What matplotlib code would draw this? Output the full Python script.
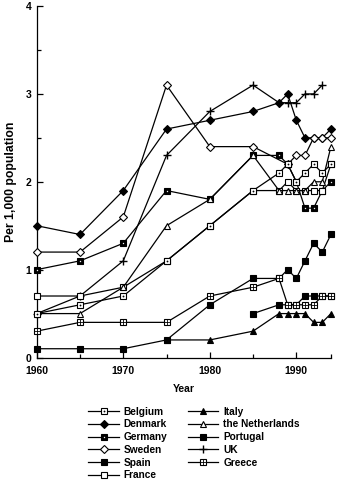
import matplotlib
matplotlib.use("Agg")
import matplotlib.pyplot as plt
from matplotlib.legend_handler import HandlerTuple
from matplotlib.ticker import MultipleLocator, FixedLocator

plt.rcParams["font.family"] = ["Liberation Sans", "DejaVu Sans"]

# Survey years shared by all countries (None = no figure for that year)
YEARS = [1960, 1965, 1970, 1975, 1980, 1985, 1988, 1989, 1990, 1991, 1992, 1993, 1994]

belgium     = [0.5, 0.6, 0.7, 1.1, 1.5, 1.9, 2.1, 2.2, 2.0, 2.1, 2.2, 2.1, 2.2]
denmark     = [1.5, 1.4, 1.9, 2.6, 2.7, 2.8, 2.9, 3.0, 2.7, 2.5, 2.5, 2.5, 2.6]
germany     = [1.0, 1.1, 1.3, 1.9, 1.8, 2.3, 2.3, 2.2, 2.0, 1.7, 1.7, 1.9, 2.0]
sweden      = [1.2, 1.2, 1.6, 3.1, 2.4, 2.4, None, 2.2, 2.3, 2.3, 2.5, 2.5, 2.5]
spain       = [0.1, 0.1, 0.1, 0.2, 0.6, 0.9, 0.9, 1.0, 0.9, 1.1, 1.3, 1.2, 1.4]
france      = [0.7, 0.7, 0.8, 1.1, 1.5, 1.9, 1.9, 2.0, 1.9, 1.9, 1.9, 1.9, 2.2]
italy       = [None, None, None, 0.2, 0.2, 0.3, 0.5, 0.5, 0.5, 0.5, 0.4, 0.4, 0.5]
netherlands = [0.5, 0.5, 0.8, 1.5, 1.8, 2.3, 1.9, 1.9, 1.9, 1.9, 2.0, 2.0, 2.4]
portugal    = [None, None, None, None, None, 0.5, 0.6, 0.6, 0.6, 0.7, 0.7, 0.7, 0.7]
uk          = [0.5, 0.7, 1.1, 2.3, 2.8, 3.1, 2.9, 2.9, 2.9, 3.0, 3.0, 3.1, None]
greece      = [0.3, 0.4, 0.4, 0.4, 0.7, 0.8, 0.9, 0.6, 0.6, 0.6, 0.6, 0.7, 0.7]

LABELS = ["Belgium", "Denmark", "Germany", "Sweden", "Spain", "France",
          "Italy", "the Netherlands", "Portugal", "UK", "Greece"]
SERIES = [belgium, denmark, germany, sweden, spain, france,
          italy, netherlands, portugal, uk, greece]

K, W = "black", "white"
# marker layers per country: (marker, size, face, edge, edge width)
MARKERS = {
    "Belgium":         [("s", 4.6, W, K, 0.8), (".", 1.6, K, K, 0.5)],
    "Denmark":         [("D", 3.6, K, K, 0.8)],
    "Germany":         [("s", 4.6, K, K, 0.8), (".", 1.4, W, W, 0.3)],
    "Sweden":          [("D", 3.8, W, K, 0.8)],
    "Spain":           [("s", 4.6, K, K, 0.8)],
    "France":          [("s", 5.0, W, K, 0.8)],
    "Italy":           [("^", 4.6, K, K, 0.8)],
    "the Netherlands": [("^", 4.6, W, K, 0.8)],
    "Portugal":        [("s", 4.6, K, K, 0.8)],
    "UK":              [("+", 6.0, K, K, 1.0)],
    "Greece":          [("s", 4.6, W, K, 0.8), ("+", 4.6, K, K, 0.6)],
}
# drawing order (later = on top)
ZORDER = {"Denmark": 3, "Sweden": 4, "UK": 5, "Germany": 6, "France": 7,
          "the Netherlands": 8, "Belgium": 9, "Spain": 10, "Italy": 10,
          "Portugal": 11, "Greece": 12}

fig = plt.figure(figsize=(3.37, 4.83), dpi=100)
ax = fig.add_axes([0.109, 0.2598, 0.873, 0.7277])

handles = {}
for name, values in zip(LABELS, SERIES):
    xs = [x for x, v in zip(YEARS, values) if v is not None]
    ys = [v for v in values if v is not None]
    z = ZORDER[name]
    parts = []
    for i, (m, ms, fc, ec, mew) in enumerate(MARKERS[name]):
        ln, = ax.plot(xs, ys, color=K, lw=0.9 if i == 0 else 0,
                      linestyle="-" if i == 0 else "none",
                      marker=m, markersize=ms, markerfacecolor=fc,
                      markeredgecolor=ec, markeredgewidth=mew,
                      zorder=z + 0.1 * i, clip_on=False)
        parts.append(ln)
    handles[name] = tuple(parts)

ax.set_xlim(1960, 1994)
ax.set_ylim(0, 4)
for s in ("top", "right"):
    ax.spines[s].set_visible(False)
for s in ("left", "bottom"):
    ax.spines[s].set_linewidth(0.9)

ax.xaxis.set_major_locator(FixedLocator([1960, 1970, 1980, 1990]))
ax.xaxis.set_minor_locator(FixedLocator([1965, 1975, 1985, 1994]))
ax.yaxis.set_major_locator(MultipleLocator(1))
ax.yaxis.set_minor_locator(MultipleLocator(0.5))
ax.tick_params(which="both", direction="in", width=0.9, labelsize=7.5)
ax.tick_params(axis="x", pad=6)
ax.tick_params(axis="y", pad=4)
ax.tick_params(which="major", length=4)
ax.tick_params(which="minor", length=3)
for lab in ax.get_xticklabels() + ax.get_yticklabels():
    lab.set_fontweight("bold")

ax.set_xlabel("Year", fontsize=7.5, fontweight="bold", labelpad=6)
ax.set_ylabel("Per 1,000 population", fontsize=8.8, fontweight="bold", labelpad=6)

leg = fig.legend([handles[n] for n in LABELS], LABELS, ncol=2,
                 loc="upper left", bbox_to_anchor=(0.262, 0.158),
                 frameon=False, prop={"weight": "bold", "size": 7.3},
                 handlelength=3.0, handletextpad=0.5, columnspacing=2.0,
                 labelspacing=0.27, borderpad=0, borderaxespad=0,
                 handler_map={tuple: HandlerTuple(ndivide=1, pad=0)})

fig.savefig("out.png", dpi=100)
